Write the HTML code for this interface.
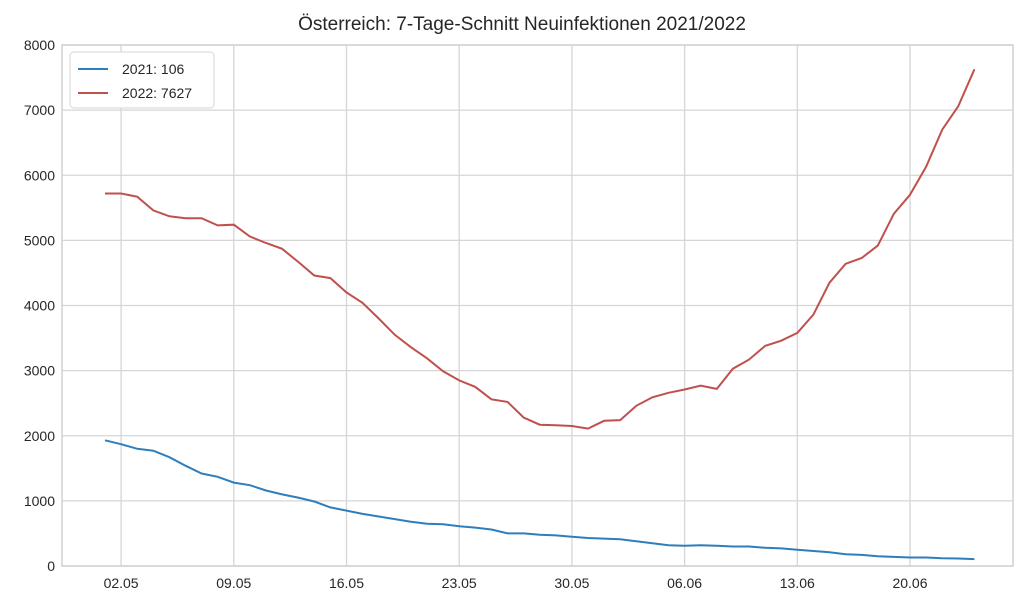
<!DOCTYPE html>
<html><head><meta charset="utf-8"><style>
body{margin:0;background:#fff;}
svg{display:block;font-family:"Liberation Sans","DejaVu Sans",sans-serif;}
</style></head><body>
<svg id="s" width="1024" height="607" viewBox="0 0 1024 607">
<rect width="1024" height="607" fill="#fff"/>
<text x="522" y="30" font-size="19" text-anchor="middle" fill="#262626">Österreich: 7-Tage-Schnitt Neuinfektionen 2021/2022</text>
<g id="grid"></g>
<rect x="62" y="45" width="951" height="521" fill="none" stroke="#d0d0d0" stroke-width="1.5"/>
<polyline id="blue" fill="none" stroke="#2f7ebc" stroke-width="2"/>
<polyline id="red" fill="none" stroke="#c0504d" stroke-width="2"/>
<rect x="70" y="52" width="144" height="56" rx="4" fill="#fff" stroke="#d6d6d6"/>
<line x1="78" y1="69" x2="108" y2="69" stroke="#2f7ebc" stroke-width="2"/>
<text x="122" y="74" font-size="14" fill="#262626">2021: 106</text>
<line x1="78" y1="93" x2="108" y2="93" stroke="#c0504d" stroke-width="2"/>
<text x="122" y="98" font-size="14" fill="#262626">2022: 7627</text>
</svg>
<script>
var ns="http://www.w3.org/2000/svg",g=document.getElementById("grid");
function el(t,a,txt){var e=document.createElementNS(ns,t);for(var k in a)e.setAttribute(k,a[k]);if(txt)e.textContent=txt;g.appendChild(e);}
function Y(v){return 566-v*0.065125;}
for(var i=0;i<=8;i++){var y=Y(i*1000);el("line",{x1:62,x2:1013,y1:y,y2:y,stroke:"#d6d6d6","stroke-width":1.3});el("text",{x:55,y:y+5,"font-size":14,"text-anchor":"end",fill:"#262626"},String(i*1000));}
var lab=["02.05","09.05","16.05","23.05","30.05","06.06","13.06","20.06"];
function X(i){return 105+i*16.1;}
for(var j=0;j<8;j++){var x=X(1+7*j);el("line",{x1:x,x2:x,y1:45,y2:566,stroke:"#d6d6d6","stroke-width":1.3});el("text",{x:x,y:588,"font-size":14,"text-anchor":"middle",fill:"#262626"},lab[j]);}
var r=[5720,5720,5670,5460,5370,5340,5340,5230,5240,5060,4960,4870,4670,4460,4420,4200,4040,3800,3550,3360,3190,2990,2850,2750,2560,2520,2280,2170,2160,2150,2110,2230,2240,2460,2590,2660,2710,2770,2720,3030,3170,3380,3460,3580,3860,4350,4640,4730,4920,5410,5700,6130,6700,7060,7627];
var b=[1930,1870,1800,1770,1670,1540,1420,1370,1280,1240,1160,1100,1050,990,900,850,800,760,720,680,650,640,610,590,560,500,500,480,470,450,430,420,410,380,350,320,310,320,310,300,300,280,270,250,230,210,180,170,150,140,130,130,120,115,106];
function pts(a){return a.map(function(v,i){return X(i).toFixed(1)+","+Y(v).toFixed(1);}).join(" ");}
document.getElementById("red").setAttribute("points",pts(r));
document.getElementById("blue").setAttribute("points",pts(b));
</script>
</body></html>
